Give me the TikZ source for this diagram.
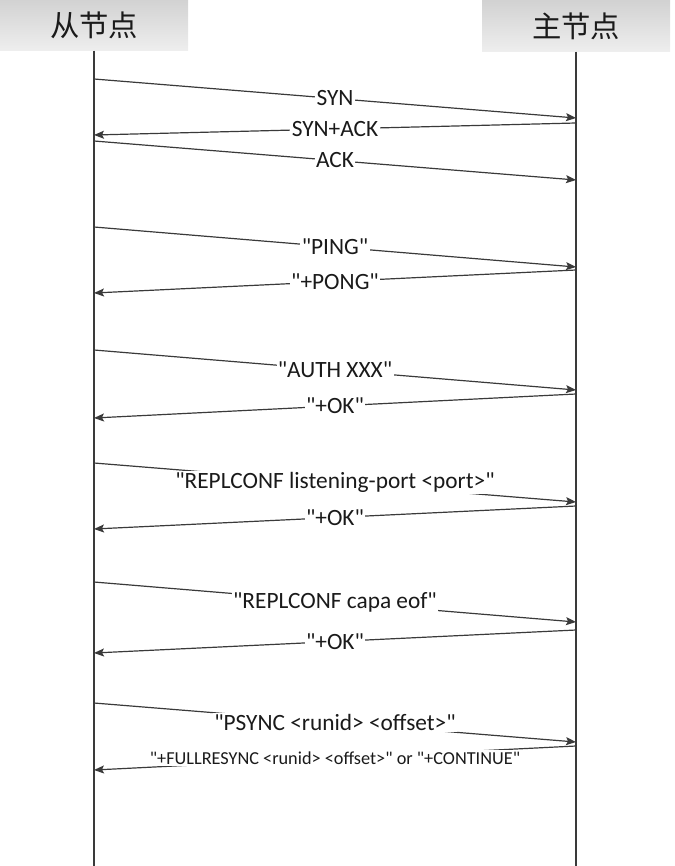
\documentclass[tikz,border=0pt]{standalone}
\usepackage{fontspec}
\setmainfont{Carlito}[Ligatures=TeXOff]
\newfontfamily\cjk{Noto Sans CJK SC}
\usetikzlibrary{arrows.meta}
\definecolor{line}{HTML}{3A3A3A}
\definecolor{ink}{HTML}{1A1A1A}
\definecolor{hdtop}{HTML}{D2D2D2}
\definecolor{hdbot}{HTML}{EEEEEE}
\tikzset{
  head/.style={top color=hdtop, bottom color=hdbot, minimum width=141pt, minimum height=38pt,
    inner sep=0pt, text=ink, font=\cjk\fontsize{22}{25}\selectfont},
  life/.style={draw=line, line width=0.9pt},
  msg/.style={draw=line, line width=0.9pt, -{Stealth[length=7.5pt,width=6pt,inset=1.5pt]}},
  lab/.style={fill=white, text=ink, inner sep=1pt, font=\fontsize{17.5}{20}\selectfont},
  labs/.style={lab, font=\fontsize{13.7}{16}\selectfont},
}
\begin{document}
\begin{tikzpicture}[x=0.75pt,y=-0.75pt]
  \useasboundingbox (0,0) rectangle (674,866);
  % lifelines
  \node[head] (slave) at (94,25) {从节点};
  \node[head] (master) at (576,26) {主节点};
  \coordinate (slaveend) at (94,866);
  \coordinate (masterend) at (576,866);
  \draw[life] (slave.south) -- (slaveend);
  \draw[life] (master.south) -- (masterend);
  % slave -> master
  \foreach \ya/\yb/\txt [count=\i] in {79/118/SYN, 141/180/ACK, 227/267/"PING",
      350/390/"AUTH XXX", 463/502/"REPLCONF listening-port <port>",
      582/622/"REPLCONF capa eof", 703/742/"PSYNC <runid> <offset>"}{
    \coordinate (q\i s) at (94,\ya);
    \coordinate (q\i m) at (576,\yb);
    \draw[msg] (q\i s) -- node[lab] {\txt} (q\i m);
  }
  % master -> slave
  \foreach \ya/\yb/\txt [count=\i] in {123/135/SYN+ACK, 270/293/"+PONG",
      394/418/"+OK", 506/529/"+OK", 630/653/"+OK"}{
    \coordinate (r\i m) at (576,\ya);
    \coordinate (r\i s) at (94,\yb);
    \draw[msg] (r\i m) -- node[lab] {\txt} (r\i s);
  }
  \coordinate (r6m) at (576,746);
  \coordinate (r6s) at (94,770);
  \draw[msg] (r6m) -- node[labs] {"+FULLRESYNC <runid> <offset>" or "+CONTINUE"} (r6s);
\end{tikzpicture}
\end{document}
